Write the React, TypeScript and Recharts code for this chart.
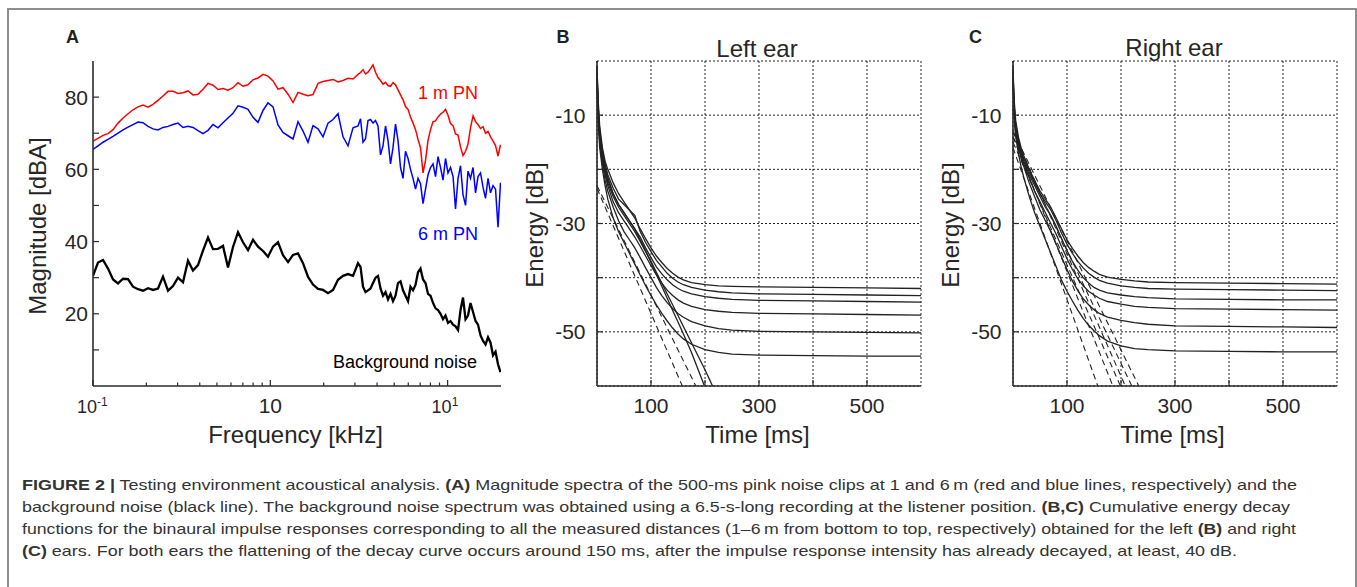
import { CartesianGrid, Line, LineChart, XAxis, YAxis } from 'recharts';

const FONT = '"Liberation Sans", Arial, Helvetica, sans-serif';
const INK = '#262626';
const BOX = '#2b2b2b';

// Panel A: spectra (frequency in kHz, level in dBA)
const freqKHz = [
  0.1, 0.1067, 0.1139, 0.1215, 0.1297, 0.1384, 0.1477, 0.1576, 0.1681, 0.1794,
  0.1914, 0.2043, 0.218, 0.2326, 0.2482, 0.2649, 0.2826, 0.3016, 0.3218, 0.3434,
  0.3664, 0.391, 0.4172, 0.4452, 0.4751, 0.507, 0.541, 0.5772, 0.616, 0.6573,
  0.7015, 0.7485, 0.7988, 0.8524, 0.9095, 0.9705, 1.036, 1.105, 1.179, 1.259,
  1.343, 1.433, 1.529, 1.632, 1.741, 1.858, 1.983, 2.116, 2.258, 2.409,
  2.57, 2.743, 2.927, 3.123,
  3.227, 3.333, 3.443, 3.556, 3.674, 3.795, 3.92, 4.049, 4.183, 4.321,
  4.464, 4.611, 4.763, 4.92, 5.083, 5.25, 5.424, 5.603, 5.788, 5.979,
  6.176, 6.38, 6.591, 6.808, 7.033, 7.265, 7.505, 7.752, 8.008, 8.273,
  8.546, 8.828, 9.12, 9.42, 9.731, 10.05, 10.38, 10.73, 11.08, 11.45,
  11.82, 12.21, 12.62, 13.03, 13.46, 13.91, 14.37, 14.84, 15.33, 15.84,
  16.36, 16.9, 17.46, 18.03, 18.63, 19.24, 19.87,
];

const pinkNoise1m = [
  67.8, 68.6, 69.4, 69.9, 71.0, 72.8, 74.2, 75.4, 76.5, 77.3,
  77.8, 77.2, 78.0, 79.1, 80.3, 81.6, 81.6, 81.0, 81.2, 81.7,
  80.6, 80.8, 82.2, 83.8, 83.3, 82.1, 82.4, 81.9, 82.6, 84.0,
  83.0, 83.4, 84.8, 85.3, 86.3, 85.8, 84.5, 82.2, 82.6, 80.8,
  78.5, 81.3, 80.8, 80.4, 80.7, 83.8, 84.3, 84.6, 84.9, 84.2,
  84.6, 85.2, 85.0, 86.3,
  86.8, 87.6, 86.4, 86.9, 87.9, 88.9, 86.9, 85.4, 84.6, 83.6,
  84.1, 83.2, 83.0, 84.0, 83.4, 82.0, 80.6, 79.3, 77.4, 76.6,
  74.5, 72.8, 71.0, 68.3, 66.0, 59.0, 62.5, 68.0, 71.0, 73.2,
  73.4, 74.5, 75.3, 75.8, 76.6, 75.0, 72.7, 72.1, 69.8, 69.5,
  66.2, 63.8, 65.0, 67.0, 71.5, 74.8, 73.2, 72.4, 71.3, 71.8,
  70.0, 70.5, 69.0, 67.8, 66.6, 63.7, 66.8,
];

const pinkNoise6m = [
  65.5, 66.5, 67.5, 68.3, 69.1, 70.0, 70.9, 71.7, 72.4, 73.1,
  72.9, 71.9, 71.2, 70.9, 71.6, 71.9, 72.4, 72.8, 71.6, 71.9,
  71.6, 70.7, 69.9, 70.8, 72.4, 71.5, 72.9, 74.2, 75.5, 77.6,
  77.2, 76.6, 74.4, 73.0, 76.3, 78.4, 77.3, 72.3, 70.2, 69.3,
  68.4, 73.2, 70.6, 67.5, 72.1, 71.2, 69.0, 72.8, 73.8, 75.4,
  69.0, 66.5, 71.5, 72.0,
  74.0, 67.5, 68.5, 73.5, 73.8, 72.8, 73.5, 72.0, 64.0, 66.5,
  72.0, 68.0, 61.5, 66.0, 72.5, 68.0, 60.5, 57.5, 65.0, 63.0,
  60.0, 57.5, 54.5, 57.5, 56.0, 50.5, 54.5, 58.5, 60.5, 61.5,
  58.0, 63.5, 60.5, 57.0, 63.0, 59.0, 60.5, 58.0, 49.0, 57.5,
  61.0, 53.0, 50.0, 59.5, 57.5, 60.5, 53.5, 58.0, 59.0, 55.0,
  52.0, 57.5, 53.5, 55.5, 54.5, 44.0, 56.3,
];

const backgroundNoise = [
  30.5, 34.2, 34.9, 32.5, 29.5, 28.4, 29.7, 29.6, 27.5, 26.8,
  26.4, 27.1, 26.6, 27.0, 30.3, 26.4, 27.7, 30.0, 28.7, 34.7,
  32.0, 33.5, 37.5, 41.1, 37.9, 38.0, 38.8, 32.8, 38.5, 42.6,
  39.8, 37.6, 40.5, 38.6, 37.4, 35.8, 38.6, 39.8, 36.2, 34.3,
  36.3, 36.7, 34.0, 30.2, 28.1, 26.9, 26.6, 25.7, 26.6, 29.4,
  30.5, 31.0, 30.5, 34.0,
  33.0, 27.5, 26.0, 26.5, 27.0, 28.5, 30.0, 30.5, 27.0, 25.0,
  26.0, 24.0, 25.5, 23.5, 25.0, 28.5, 29.0, 26.5, 25.0, 23.5,
  27.5, 26.5, 28.0, 31.5, 32.5, 29.5, 28.5, 25.5, 25.0, 23.0,
  21.5, 21.0, 20.0, 18.5, 19.5, 17.5, 18.0, 17.0, 16.5, 15.5,
  21.0, 24.5, 18.5, 19.5, 23.0, 20.5, 18.0, 17.0, 14.0, 12.5,
  11.5, 13.5, 12.0, 8.5, 9.5, 6.0, 3.8,
];

const freqTicks = [0.1, 0.2, 0.3, 0.4, 0.5, 0.6, 0.7, 0.8, 0.9, 1, 2, 3, 4, 5, 6, 7, 8, 9, 10];
const freqMajor = [0.1, 1, 10];
const magnitudeTicks = [10, 20, 30, 40, 50, 60, 70, 80];
const magnitudeLabels = [20, 40, 60, 80];

// Panels B and C: energy decay curves (time in ms, energy in dB)
const decayTime = [0, 2, 5, 10, 15, 20, 30, 40, 50, 60, 70, 80, 90, 100, 110, 120, 130, 140, 150, 160, 175, 200, 225, 250, 300, 400, 500, 600];

const leftEar = [
  [-1, -7, -12, -16, -18.5, -20, -22.5, -24.5, -26, -27.5, -29, -31, -32.8, -34.5, -36, -37.2, -38.3, -39.2, -39.9, -40.4, -40.9, -41.3, -41.5, -41.6, -41.7, -41.8, -41.9, -42.0],
  [-2, -8, -13, -16.5, -19, -21, -23.5, -25.5, -26.5, -27.5, -28.5, -31.5, -33.5, -35.2, -36.8, -38, -39.2, -40.1, -40.8, -41.3, -41.8, -42.3, -42.6, -42.8, -43.0, -43.1, -43.2, -43.3],
  [-3, -9, -14, -17.5, -20, -22, -24.5, -26.5, -28, -29.5, -31, -32.5, -34.5, -36.3, -38, -39.3, -40.4, -41.3, -42, -42.5, -43, -43.5, -43.8, -44, -44.2, -44.3, -44.4, -44.5],
  [-2, -9, -14, -18, -21, -23, -26, -28, -29.5, -31, -32.5, -34.2, -36, -37.8, -39.5, -41, -42.3, -43.3, -44.1, -44.7, -45.3, -45.9, -46.2, -46.4, -46.6, -46.7, -46.8, -46.9],
  [-4, -10, -15, -19, -22, -24, -27, -29.5, -31.5, -33, -34.5, -36.3, -38.2, -40, -41.8, -43.3, -44.6, -45.7, -46.6, -47.3, -48.1, -48.9, -49.4, -49.7, -49.9, -50, -50.1, -50.2],
  [-5, -11, -16, -20, -23, -25.5, -29, -31.5, -33.5, -35.5, -37.5, -39.5, -41.5, -43.3, -45, -46.6, -48, -49.3, -50.4, -51.3, -52.3, -53.3, -53.8, -54.1, -54.3, -54.4, -54.5, -54.5],
];
const leftSteepTime = [
  [0, 2, 5, 10, 15, 20, 30, 40, 50, 60, 70, 80, 90, 100, 110, 120, 130, 140, 150, 160, 175, 199],
  [0, 2, 5, 10, 15, 20, 30, 40, 50, 60, 70, 80, 90, 100, 110, 120, 130, 140, 150, 160, 175, 200, 214],
];
const leftSteep = [
  [-1, -8, -13, -17, -19.5, -21.5, -24.5, -26.5, -28, -29.5, -31, -33, -35, -37.2, -39.4, -41.6, -43.8, -46, -48.2, -50.4, -53.8, -60],
  [-3, -9, -14, -18, -20.5, -22.5, -25, -27, -28.5, -30, -31.5, -33.3, -35.2, -37, -39, -41, -43, -45, -47, -49, -52, -57, -60],
];
const leftFitStart = [-23.5, -23];
const leftFitEnd = [158, 183];

const rightEar = [
  [-1, -7, -11, -14, -16, -17.5, -20, -22, -24, -25.5, -27, -29, -31, -33, -34.6, -36, -37.2, -38.1, -38.8, -39.4, -39.9, -40.3, -40.6, -40.8, -40.9, -41, -41.1, -41.2],
  [-2, -8, -12, -14.5, -16.5, -18, -20.5, -22.5, -24.5, -26, -27.5, -29.5, -31.8, -33.8, -35.5, -37, -38.2, -39.2, -39.9, -40.5, -41, -41.5, -41.8, -42, -42.1, -42.2, -42.3, -42.4],
  [-2, -8, -12.5, -15, -17, -18.5, -21, -23, -25, -27, -28.5, -30.5, -32.8, -35, -37, -38.6, -40, -41, -41.8, -42.3, -42.8, -43.2, -43.5, -43.7, -43.9, -44, -44.1, -44.1],
  [-3, -9, -13, -15.5, -17.5, -19, -21.5, -24, -26, -28, -30, -32, -34.3, -36.5, -38.5, -40.2, -41.5, -42.5, -43.2, -43.8, -44.4, -44.9, -45.3, -45.5, -45.7, -45.8, -45.9, -46],
  [-3, -9, -13.5, -16, -18, -19.5, -22.5, -25, -27.5, -29.5, -31.5, -33.8, -36.2, -38.5, -40.6, -42.4, -43.9, -45, -45.9, -46.6, -47.3, -47.9, -48.3, -48.6, -48.9, -49, -49.1, -49.2],
  [-4, -10, -14, -17, -19.5, -21.5, -25, -28, -30.5, -33, -35.5, -38, -40.5, -42.5, -44.3, -46, -47.5, -48.8, -49.8, -50.7, -51.7, -52.6, -53.1, -53.3, -53.5, -53.6, -53.7, -53.7],
];
const rightFitStart = [-16, -14, -15, -13, -14, -13];
const rightFitEnd = [157, 185, 199, 208, 220, 233];

const timeTicks = [100, 200, 300, 400, 500];
const timeLabels = [100, 300, 500];
const energyTicks = [-50, -40, -30, -20, -10];
const energyLabels = [-10, -30, -50];

const spectrumRows = freqKHz.map((f, i) => ({
  f,
  pn1: pinkNoise1m[i],
  pn6: pinkNoise6m[i],
  bg: backgroundNoise[i],
}));

const toRows = (time: number[], level: number[]) => time.map((t, i) => ({ t, v: level[i] }));

const tickText = { fontFamily: FONT, fontSize: 21, fill: INK };

// MATLAB style: tick marks point into the box, labels sit outside
const leftTick = (labels: number[], gap: number) => (p: any) => {
  const v = p.payload.value;
  return (
    <g>
      <line x1={p.x} y1={p.y} x2={p.x + 6} y2={p.y} stroke={BOX} strokeWidth={1.2} />
      {labels.includes(v) && (
        <text x={p.x - gap} y={p.y} dy="0.36em" textAnchor="end" style={tickText}>
          {v}
        </text>
      )}
    </g>
  );
};

const rightTick = (p: any) => (
  <line x1={p.x} y1={p.y} x2={p.x - 6} y2={p.y} stroke={BOX} strokeWidth={1.2} />
);

const topTick = (major: number[]) => (p: any) => (
  <line x1={p.x} y1={p.y} x2={p.x} y2={p.y + (major.includes(p.payload.value) ? 6 : 3.5)} stroke={BOX} strokeWidth={1.2} />
);

const timeTick = (p: any) => {
  const v = p.payload.value;
  return (
    <g>
      <line x1={p.x} y1={p.y} x2={p.x} y2={p.y - 6} stroke={BOX} strokeWidth={1.2} />
      {timeLabels.includes(v) && (
        <text x={p.x} y={p.y + 26.5} textAnchor="middle" style={tickText}>
          {v}
        </text>
      )}
    </g>
  );
};

const freqTick = (p: any) => {
  const v = p.payload.value;
  const major = freqMajor.includes(v);
  let label = null;
  if (v === 1) {
    label = (
      <text x={p.x} y={p.y + 26.5} textAnchor="middle" style={tickText}>
        10
      </text>
    );
  } else if (major) {
    label = (
      <text x={p.x - 16} y={p.y + 26.5} textAnchor="start" style={{ ...tickText, fontSize: 18 }}>
        <tspan>10</tspan>
        <tspan dy={-7} fontSize={12}>{v < 1 ? '-1' : '1'}</tspan>
      </text>
    );
  }
  return (
    <g>
      <line x1={p.x} y1={p.y} x2={p.x} y2={p.y - (major ? 6 : 3.5)} stroke={BOX} strokeWidth={1.2} />
      {label}
    </g>
  );
};

const axisLine = { stroke: BOX, strokeWidth: 1.6 };

function SpectrumPanel() {
  return (
    <div style={{ position: 'absolute', left: 0, top: 0 }}>
      <LineChart width={520} height={460} data={spectrumRows} margin={{ top: 61, right: 19, bottom: 0, left: 0 }}>
        <XAxis
          dataKey="f"
          type="number"
          scale="log"
          domain={[0.1, 20]}
          allowDataOverflow
          ticks={freqTicks}
          interval={0}
          height={74}
          tickSize={0}
          tickMargin={0}
          tickLine={false}
          axisLine={axisLine}
          tick={freqTick}
        />
        <XAxis
          xAxisId="top"
          orientation="top"
          dataKey="f"
          type="number"
          scale="log"
          domain={[0.1, 20]}
          allowDataOverflow
          ticks={freqTicks}
          interval={0}
          height={0}
          tickSize={0}
          tickMargin={0}
          tickLine={false}
          axisLine={axisLine}
          tick={topTick(freqMajor)}
        />
        <YAxis
          type="number"
          domain={[0, 90]}
          ticks={magnitudeTicks}
          interval={0}
          width={93}
          tickSize={0}
          tickMargin={0}
          tickLine={false}
          axisLine={axisLine}
          tick={leftTick(magnitudeLabels, 5)}
        />
        <YAxis
          yAxisId="right"
          orientation="right"
          type="number"
          domain={[0, 90]}
          ticks={magnitudeTicks}
          interval={0}
          width={0}
          tickSize={0}
          tickMargin={0}
          tickLine={false}
          axisLine={axisLine}
          tick={rightTick}
        />
        <Line dataKey="bg" stroke="#000000" strokeWidth={2.3} dot={false} activeDot={false} isAnimationActive={false} />
        <Line dataKey="pn6" stroke="#0000ff" strokeWidth={1.5} dot={false} activeDot={false} isAnimationActive={false} />
        <Line dataKey="pn1" stroke="#ff0000" strokeWidth={1.5} dot={false} activeDot={false} isAnimationActive={false} />
      </LineChart>
    </div>
  );
}

function DecayPanel({
  left,
  width,
  axisWidth,
  curves,
  steepTime,
  steep,
  fitStart,
  fitEnd,
}: {
  left: number;
  width: number;
  axisWidth: number;
  curves: number[][];
  steepTime: number[][];
  steep: number[][];
  fitStart: number[];
  fitEnd: number[];
}) {
  return (
    <div style={{ position: 'absolute', left, top: 0 }}>
      <LineChart width={width} height={460} margin={{ top: 61, right: width - axisWidth - 324, bottom: 0, left: 0 }}>
        <CartesianGrid stroke="#222" strokeDasharray="2 2" strokeWidth={1} />
        <XAxis
          dataKey="t"
          type="number"
          domain={[0, 600]}
          ticks={timeTicks}
          interval={0}
          height={74}
          tickSize={0}
          tickMargin={0}
          tickLine={false}
          axisLine={axisLine}
          tick={timeTick}
        />
        <XAxis
          xAxisId="top"
          orientation="top"
          dataKey="t"
          type="number"
          domain={[0, 600]}
          ticks={timeTicks}
          interval={0}
          height={0}
          tickSize={0}
          tickMargin={0}
          tickLine={false}
          axisLine={axisLine}
          tick={topTick(timeTicks)}
        />
        <YAxis
          type="number"
          domain={[-60, 0]}
          allowDataOverflow
          ticks={energyTicks}
          interval={0}
          width={axisWidth}
          tickSize={0}
          tickMargin={0}
          tickLine={false}
          axisLine={axisLine}
          tick={leftTick(energyLabels, 11.5)}
        />
        <YAxis
          yAxisId="right"
          orientation="right"
          type="number"
          domain={[-60, 0]}
          ticks={energyTicks}
          interval={0}
          width={0}
          tickSize={0}
          tickMargin={0}
          tickLine={false}
          axisLine={axisLine}
          tick={rightTick}
        />
        {fitStart.map((v, i) => (
          <Line
            key={`fit-${i}`}
            data={[{ t: 0, v }, { t: fitEnd[i], v: -60 }]}
            dataKey="v"
            stroke="#222"
            strokeWidth={1.1}
            strokeDasharray="6 4"
            dot={false}
            activeDot={false}
            isAnimationActive={false}
          />
        ))}
        {steep.map((s, i) => (
          <Line
            key={`steep-${i}`}
            data={toRows(steepTime[i], s)}
            dataKey="v"
            stroke="#222"
            strokeWidth={1.3}
            dot={false}
            activeDot={false}
            isAnimationActive={false}
          />
        ))}
        {curves.map((c, i) => (
          <Line
            key={`edc-${i}`}
            data={toRows(decayTime, c)}
            dataKey="v"
            stroke="#222"
            strokeWidth={1.3}
            dot={false}
            activeDot={false}
            isAnimationActive={false}
          />
        ))}
      </LineChart>
    </div>
  );
}

const labelText = { fontFamily: FONT, fontSize: 24, fill: INK };
const letterText = { fontFamily: FONT, fontSize: 18, fontWeight: 700, fill: '#222' };
const seriesText = { fontFamily: FONT, fontSize: 18 };
const captionText = { fontFamily: FONT, fontSize: 15, fill: '#333' };

export default function App() {
  return (
    <div style={{ position: 'absolute', left: 0, top: 0, width: 1357, height: 587, background: '#fff', overflow: 'hidden' }}>
      <div style={{ position: 'absolute', left: 7, top: 8, width: 1346, height: 620, border: '2px solid #8e8e8e' }} />
      <SpectrumPanel />
      <DecayPanel
        left={500}
        width={440}
        axisWidth={97}
        curves={leftEar}
        steepTime={leftSteepTime}
        steep={leftSteep}
        fitStart={leftFitStart}
        fitEnd={leftFitEnd}
      />
      <DecayPanel
        left={920}
        width={437}
        axisWidth={93}
        curves={rightEar}
        steepTime={[]}
        steep={[]}
        fitStart={rightFitStart}
        fitEnd={rightFitEnd}
      />
      <svg width={1357} height={587} style={{ position: 'absolute', left: 0, top: 0, pointerEvents: 'none' }}>
        <text x={66} y={42.5} style={letterText}>A</text>
        <text x={556.5} y={42.5} style={letterText}>B</text>
        <text x={969} y={42.5} style={letterText}>C</text>

        <text x={757} y={57} textAnchor="middle" style={labelText}>Left ear</text>
        <text x={1174} y={56} textAnchor="middle" style={labelText}>Right ear</text>

        <text transform="translate(45.5 226) rotate(-90)" textAnchor="middle" style={labelText}>Magnitude [dBA]</text>
        <text transform="translate(542.5 225) rotate(-90)" textAnchor="middle" style={labelText}>Energy [dB]</text>
        <text transform="translate(959 225) rotate(-90)" textAnchor="middle" style={labelText}>Energy [dB]</text>

        <text x={295.5} y={443} textAnchor="middle" style={labelText}>Frequency [kHz]</text>
        <text x={757.5} y={443} textAnchor="middle" style={labelText}>Time [ms]</text>
        <text x={1172.5} y={443} textAnchor="middle" style={labelText}>Time [ms]</text>

        <text x={478} y={98.5} textAnchor="end" style={{ ...seriesText, fill: '#ff0000' }}>1 m PN</text>
        <text x={478} y={240} textAnchor="end" style={{ ...seriesText, fill: '#0000ff' }}>6 m PN</text>
        <text x={477} y={367.5} textAnchor="end" style={{ ...seriesText, fill: '#000' }}>Background noise</text>

        <text x={22} y={490} style={captionText} textLength={1275} lengthAdjust="spacingAndGlyphs">
          <tspan fontWeight={700}>FIGURE 2 |</tspan>
          <tspan>{' Testing environment acoustical analysis. '}</tspan>
          <tspan fontWeight={700}>(A)</tspan>
          <tspan>{' Magnitude spectra of the 500-ms pink noise clips at 1 and 6\u2009m (red and blue lines, respectively) and the'}</tspan>
        </text>
        <text x={22} y={512} style={captionText} textLength={1268} lengthAdjust="spacingAndGlyphs">
          <tspan>{'background noise (black line).  The background noise spectrum was obtained using a 6.5-s-long recording at the listener position. '}</tspan>
          <tspan fontWeight={700}>(B,C)</tspan>
          <tspan>{' Cumulative energy decay'}</tspan>
        </text>
        <text x={22} y={534} style={captionText} textLength={1274} lengthAdjust="spacingAndGlyphs">
          <tspan>{'functions for the binaural impulse responses corresponding to all the measured distances (1\u20136\u2009m from bottom to top, respectively) obtained for the left '}</tspan>
          <tspan fontWeight={700}>(B)</tspan>
          <tspan>{' and right'}</tspan>
        </text>
        <text x={22} y={556} style={captionText} textLength={1215} lengthAdjust="spacingAndGlyphs">
          <tspan fontWeight={700}>(C)</tspan>
          <tspan>{' ears. For both ears the flattening of the decay curve occurs around 150 ms, after the impulse response intensity has already decayed, at least, 40 dB.'}</tspan>
        </text>
      </svg>
    </div>
  );
}
